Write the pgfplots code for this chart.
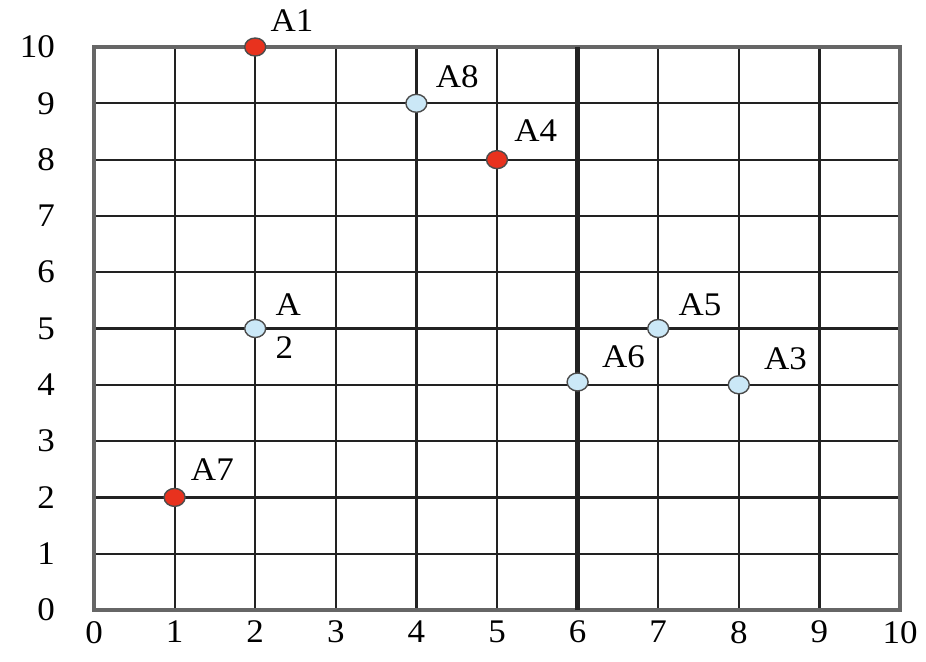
\documentclass[border=0pt]{standalone}
\usepackage{fontspec}
\setmainfont{Liberation Serif}[FakeStretch=1.06]
\usepackage{pgfplots}
\pgfplotsset{compat=1.18}
\definecolor{ptred}{HTML}{E8321E}
\definecolor{ptblue}{HTML}{CBE8F7}
\definecolor{gridc}{HTML}{222222}
\definecolor{framec}{HTML}{666666}
\begin{document}
\begin{tikzpicture}
\begin{axis}[
  scale only axis, width=403pt, height=281.5pt,
  xmin=0, xmax=10, ymin=0, ymax=10,
  xtick={0,...,10}, ytick={0,...,10},
  major tick length=0pt,
  grid=major, grid style={gridc, line width=1.1pt},
  axis line style={framec, line width=1.6pt},
  tick label style={font=\fontsize{16.5}{18}\selectfont},
  /pgf/number format/assume math mode=true,
  yticklabel style={xshift=-16pt},
  xticklabel style={yshift=-2pt},
  clip=false,
]
% thick vertical line at x = 6
\addplot[gridc, line width=2.2pt] coordinates {(6,0) (6,10)};
% red points
\addplot[only marks, mark=*, mark size=5pt,
  mark options={fill=ptred, draw=black!70, line width=0.7pt, xscale=1.05, yscale=0.9}]
  coordinates {(2,10) (5,8) (1,2)};
% light blue points
\addplot[only marks, mark=*, mark size=5pt,
  mark options={fill=ptblue, draw=black!70, line width=0.7pt, xscale=1.05, yscale=0.9}]
  coordinates {(4,9) (2,5) (7,5) (6,4.05) (8,4)};
\begin{scope}[every node/.style={font=\fontsize{16.5}{18}\selectfont, anchor=base west, inner sep=0pt}]
\node at ([xshift=7.5pt, yshift=8pt]axis cs:2,10) {A1};
\node at ([xshift=9.5pt, yshift=8pt]axis cs:4,9) {A8};
\node at ([xshift=8.5pt, yshift=9pt]axis cs:5,8) {A4};
\node at ([xshift=10pt, yshift=6.5pt]axis cs:7,5) {A5};
\node at ([xshift=12pt, yshift=7pt]axis cs:6,4.05) {A6};
\node at ([xshift=12.5pt, yshift=7.5pt]axis cs:8,4) {A3};
\node at ([xshift=8pt, yshift=8.5pt]axis cs:1,2) {A7};
\node at ([xshift=10pt, yshift=6.5pt]axis cs:2,5) {A};
\node at ([xshift=10pt, yshift=-15pt]axis cs:2,5) {2};
\end{scope}
\end{axis}
\pgfresetboundingbox
\path (-47pt,-25.5pt) rectangle (416pt,305pt);
\end{tikzpicture}
\end{document}
